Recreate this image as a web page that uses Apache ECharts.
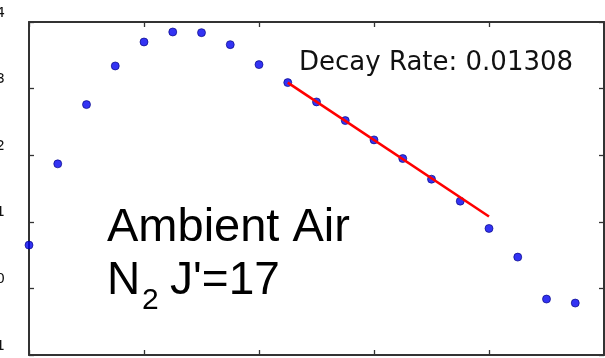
<!DOCTYPE html>
<html>
<head>
<meta charset="utf-8">
<script src="https://cdn.jsdelivr.net/npm/echarts@6/dist/echarts.min.js"></script>
<style>
  html, body { margin: 0; padding: 0; background: #fff; }
  #chart { width: 605px; height: 358px; }
</style>
</head>
<body>
<div id="chart"></div>
<script>
// Measured signal (log scale) against sample index
const sampleX = [0, 1, 2, 3, 4, 5, 6, 7, 8, 9, 10, 11, 12, 13, 14, 15, 16, 17, 18, 19];
const logSignal = [0.65, 1.87, 2.76, 3.34, 3.70, 3.85, 3.84, 3.66, 3.36, 3.09, 2.80, 2.52, 2.23, 1.95, 1.64, 1.31, 0.90, 0.47, -0.16, -0.22];

// Linear fit over the decaying part
const fitX = [9, 16];
const fitY = [3.09, 1.08];

// Axis ranges and ticks
const xRange = [0, 20];
const xStep = 4;
const yRange = [-1, 4];
const yStep = 1;

const annotation = 'Decay Rate: 0.01308';
const sampleName = 'Ambient Air';
const speciesMain = 'N';
const speciesSub = '2';
const speciesRest = "J'=17";

const chart = echarts.init(document.getElementById('chart'), null, { renderer: 'canvas' });

const frameLine = { show: true, onZero: false, lineStyle: { color: '#333333', width: 2 } };
const innerTick = { show: true, inside: true, length: 5, lineStyle: { color: '#333333', width: 1.3 } };

chart.setOption({
  animation: false,
  backgroundColor: '#ffffff',
  grid: { left: 29, top: 22, right: 1, bottom: 3, containLabel: false, outerBoundsMode: 'none' },
  xAxis: [
    { type: 'value', min: xRange[0], max: xRange[1], interval: xStep, position: 'bottom',
      axisLine: frameLine, axisTick: innerTick, axisLabel: { show: false }, splitLine: { show: false } },
    { type: 'value', min: xRange[0], max: xRange[1], interval: xStep, position: 'top',
      axisLine: frameLine, axisTick: innerTick, axisLabel: { show: false }, splitLine: { show: false } }
  ],
  yAxis: [
    { type: 'value', min: yRange[0], max: yRange[1], interval: yStep, position: 'left',
      axisLine: frameLine, axisTick: innerTick, splitLine: { show: false },
      axisLabel: { show: true, margin: 24, align: 'right', verticalAlign: 'bottom', padding: [0, 0, 2, 0],
        color: '#111', fontSize: 14, fontFamily: 'DejaVu Sans' } },
    { type: 'value', min: yRange[0], max: yRange[1], interval: yStep, position: 'right',
      axisLine: frameLine, axisTick: innerTick, axisLabel: { show: false }, splitLine: { show: false } }
  ],
  series: [
    {
      type: 'scatter',
      data: sampleX.map((x, i) => [x, logSignal[i]]),
      symbol: 'circle',
      symbolSize: 8,
      itemStyle: { color: '#0000f0', borderColor: '#00007a', borderWidth: 0.8 },
      z: 2,
      silent: true
    },
    {
      type: 'line',
      data: fitX.map((x, i) => [x, fitY[i]]),
      showSymbol: false,
      lineStyle: { color: '#ff0000', width: 2.6 },
      z: 3,
      silent: true
    }
  ],
  graphic: [
    { type: 'text', z: 10, style: { x: 299, y: 63, text: annotation, fill: '#111',
      font: '26px "DejaVu Sans"', textAlign: 'left', textVerticalAlign: 'middle' } },
    { type: 'text', z: 10, style: { x: 107, y: 228, text: sampleName, fill: '#000',
      font: '47px "Liberation Sans"', textAlign: 'left', textVerticalAlign: 'middle' } },
    { type: 'text', z: 10, style: { x: 107, y: 281, text: speciesMain, fill: '#000',
      font: '46px "Liberation Sans"', textAlign: 'left', textVerticalAlign: 'middle' } },
    { type: 'text', z: 10, style: { x: 142, y: 301, text: speciesSub, fill: '#000',
      font: '30px "Liberation Sans"', textAlign: 'left', textVerticalAlign: 'middle' } },
    { type: 'text', z: 10, style: { x: 170, y: 281, text: speciesRest, fill: '#000',
      font: '46px "Liberation Sans"', textAlign: 'left', textVerticalAlign: 'middle' } }
  ]
});
</script>
</body>
</html>
